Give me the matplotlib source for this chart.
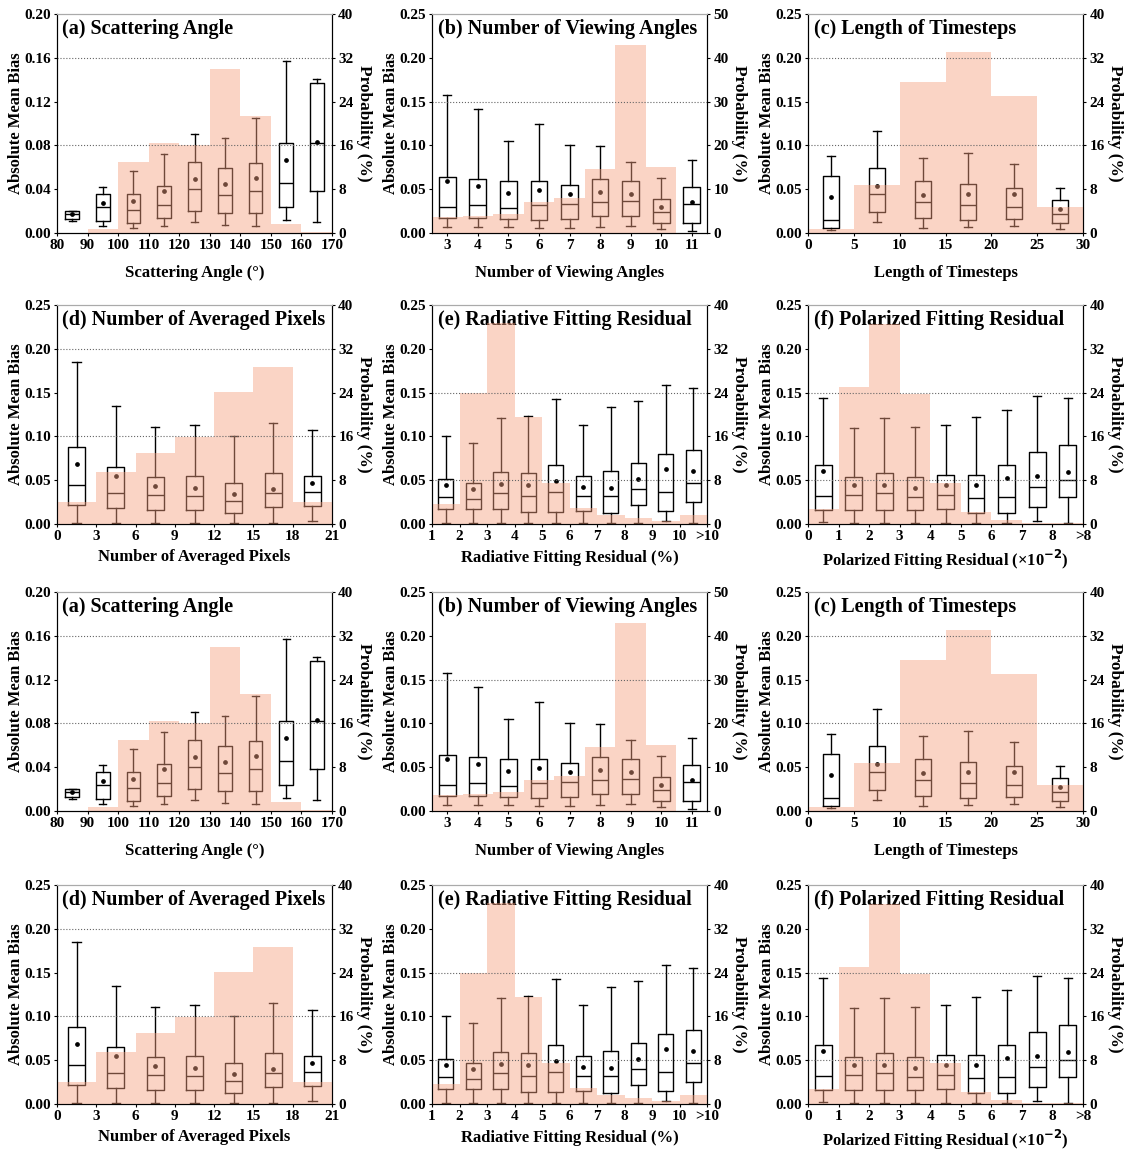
import numpy as np
import matplotlib.pyplot as plt
from matplotlib.ticker import FormatStrFormatter

plt.rcParams['font.family'] = ['Liberation Serif', 'DejaVu Serif']
plt.rcParams['font.weight'] = 'bold'
plt.rcParams['axes.labelweight'] = 'bold'
plt.rcParams['mathtext.default'] = 'bf'

# box rows: (whisker low, q1, median, q3, whisker high, mean)

# (a) Scattering Angle
a_edges = [80, 90, 100, 110, 120, 130, 140, 150, 160, 170]
a_prob = [0.0, 0.7, 12.9, 16.4, 16.0, 30.0, 21.4, 1.6, 0.1]
a_box = [(0.011, 0.013, 0.017, 0.020, 0.020, 0.017),
         (0.006, 0.011, 0.024, 0.036, 0.042, 0.027),
         (0.005, 0.009, 0.021, 0.036, 0.057, 0.029),
         (0.006, 0.014, 0.026, 0.043, 0.072, 0.038),
         (0.010, 0.020, 0.040, 0.065, 0.090, 0.049),
         (0.007, 0.018, 0.035, 0.059, 0.087, 0.045),
         (0.006, 0.018, 0.038, 0.064, 0.105, 0.050),
         (0.012, 0.024, 0.046, 0.082, 0.157, 0.067),
         (0.010, 0.038, 0.082, 0.137, 0.141, 0.083)]
a_xticks = [80, 90, 100, 110, 120, 130, 140, 150, 160, 170]

# (b) Number of Viewing Angles
b_edges = [2.5, 3.5, 4.5, 5.5, 6.5, 7.5, 8.5, 9.5, 10.5, 11.5]
b_prob = [3.6, 3.8, 4.4, 7.0, 8.0, 14.6, 43.0, 15.0, 0.0]
b_box = [(0.007, 0.017, 0.030, 0.064, 0.158, 0.059),
         (0.007, 0.017, 0.032, 0.062, 0.142, 0.054),
         (0.007, 0.016, 0.029, 0.059, 0.105, 0.046),
         (0.006, 0.015, 0.032, 0.059, 0.125, 0.049),
         (0.006, 0.016, 0.033, 0.055, 0.101, 0.044),
         (0.007, 0.019, 0.035, 0.062, 0.099, 0.047),
         (0.008, 0.019, 0.036, 0.059, 0.081, 0.045),
         (0.005, 0.011, 0.024, 0.039, 0.063, 0.030),
         (0.002, 0.011, 0.033, 0.052, 0.083, 0.035)]
b_xticks = [3, 4, 5, 6, 7, 8, 9, 10, 11]

# (c) Length of Timesteps
c_edges = [0, 5, 10, 15, 20, 25, 30]
c_prob = [0.8, 8.8, 27.5, 33.1, 25.0, 4.8]
c_box = [(0.003, 0.006, 0.015, 0.065, 0.088, 0.041),
         (0.012, 0.024, 0.044, 0.074, 0.117, 0.054),
         (0.006, 0.017, 0.035, 0.059, 0.086, 0.043),
         (0.007, 0.015, 0.032, 0.056, 0.091, 0.045),
         (0.008, 0.016, 0.030, 0.051, 0.079, 0.044),
         (0.004, 0.011, 0.022, 0.038, 0.051, 0.027)]
c_xticks = [0, 5, 10, 15, 20, 25, 30]

# (d) Number of Averaged Pixels
d_edges = [0, 3, 6, 9, 12, 15, 18, 21]
d_prob = [4.0, 9.5, 12.9, 15.8, 24.2, 28.6, 4.0]
d_box = [(0.001, 0.022, 0.045, 0.088, 0.185, 0.069),
         (0.001, 0.018, 0.035, 0.065, 0.135, 0.055),
         (0.001, 0.016, 0.033, 0.054, 0.111, 0.043),
         (0.001, 0.016, 0.032, 0.055, 0.113, 0.041),
         (0.001, 0.012, 0.026, 0.047, 0.100, 0.034),
         (0.001, 0.019, 0.035, 0.058, 0.115, 0.040),
         (0.003, 0.020, 0.036, 0.055, 0.107, 0.047)]
d_xticks = [0, 3, 6, 9, 12, 15, 18, 21]

# (e) Radiative Fitting Residual
e_edges = [1, 2, 3, 4, 5, 6, 7, 8, 9, 10, 11]
e_prob = [3.6, 24.0, 36.7, 19.5, 7.4, 2.9, 1.7, 1.1, 0.5, 1.6]
e_box = [(0.001, 0.017, 0.031, 0.051, 0.100, 0.044),
         (0.001, 0.017, 0.029, 0.047, 0.093, 0.040),
         (0.001, 0.017, 0.035, 0.059, 0.121, 0.046),
         (0.001, 0.014, 0.032, 0.058, 0.123, 0.044),
         (0.001, 0.014, 0.036, 0.067, 0.143, 0.049),
         (0.001, 0.015, 0.032, 0.055, 0.113, 0.042),
         (0.001, 0.012, 0.032, 0.061, 0.134, 0.041),
         (0.001, 0.022, 0.040, 0.070, 0.140, 0.051),
         (0.003, 0.015, 0.036, 0.080, 0.159, 0.063),
         (0.001, 0.025, 0.047, 0.085, 0.155, 0.060)]
e_xticks = [1, 2, 3, 4, 5, 6, 7, 8, 9, 10, 11]
e_xticklabels = ['1', '2', '3', '4', '5', '6', '7', '8', '9', '10', '>10']

# (f) Polarized Fitting Residual
f_edges = [0, 1, 2, 3, 4, 5, 6, 7, 8, 9]
f_prob = [2.7, 25.0, 36.5, 23.8, 7.5, 2.2, 0.7, 0.2, 0.2]
f_box = [(0.002, 0.016, 0.032, 0.067, 0.144, 0.060),
         (0.001, 0.016, 0.033, 0.054, 0.110, 0.045),
         (0.001, 0.016, 0.035, 0.058, 0.121, 0.044),
         (0.001, 0.016, 0.031, 0.054, 0.111, 0.041),
         (0.001, 0.017, 0.033, 0.056, 0.113, 0.045),
         (0.001, 0.013, 0.030, 0.056, 0.122, 0.044),
         (0.001, 0.012, 0.031, 0.067, 0.130, 0.053),
         (0.003, 0.019, 0.042, 0.082, 0.146, 0.055),
         (0.001, 0.031, 0.050, 0.090, 0.144, 0.059)]
f_xticks = [0, 1, 2, 3, 4, 5, 6, 7, 8, 9]
f_xticklabels = ['0', '1', '2', '3', '4', '5', '6', '7', '8', '>8']

HIST_COLOR = '#f5a080'
W, H = 1126, 1151


def draw_panel(rect, title, xlabel, edges, prob, boxes, xticks, xticklabels,
               ymax, ystep, pmax, pstep, grid_vals, width, xpad):
    ax = fig.add_axes(rect)
    edges = np.array(edges, dtype=float)
    pos = (edges[:-1] + edges[1:]) / 2
    stats = [dict(whislo=b[0], q1=b[1], med=b[2], q3=b[3], whishi=b[4],
                  mean=b[5], fliers=[]) for b in boxes]
    lp = dict(color='black', linewidth=1.0)
    ax.bxp(stats, positions=pos, widths=width, showmeans=True, patch_artist=False,
           boxprops=lp, whiskerprops=lp, capprops=lp, medianprops=lp,
           meanprops=dict(marker='o', markersize=2.4, markerfacecolor='black',
                          markeredgecolor='black'))
    ax.set_xlim(edges[0], edges[-1])
    ax.set_ylim(0, ymax)
    ax.set_yticks(np.arange(0, ymax + 1e-9, ystep))
    ax.yaxis.set_major_formatter(FormatStrFormatter('%.2f'))
    ax.set_xticks(xticks)
    ax.set_xticklabels(xticklabels if xticklabels else [str(t) for t in xticks])
    ax.set_xlabel(xlabel, fontsize=12, fontweight='bold', labelpad=xpad)
    ax.set_ylabel('Absolute Mean Bias', fontsize=12, fontweight='bold', labelpad=0)
    ax.tick_params(direction='out', length=2.5, width=0.8, labelsize=11, pad=2)

    ax2 = ax.twinx()
    ax2.bar(edges[:-1], prob, width=np.diff(edges), align='edge',
            color=HIST_COLOR, alpha=0.45, linewidth=0)
    for g in grid_vals:
        ax2.axhline(g, color='#666666', ls=':', lw=0.8)
    ax2.set_ylim(0, pmax)
    ax2.set_yticks(np.arange(0, pmax + 1e-9, pstep))
    ax2.set_ylabel('Probability (%)', fontsize=12.5, fontweight='bold',
                   rotation=270, labelpad=13)
    ax2.tick_params(direction='out', length=2.5, width=0.8, labelsize=11, pad=2)
    for a in (ax, ax2):
        a.spines['top'].set_color('#aaaaaa')
        a.spines['top'].set_linewidth(0.8)
    ax.text(0.02, 0.975, title, transform=ax.transAxes, ha='left', va='top',
            fontsize=14.5, fontweight='bold', zorder=10)


fig = plt.figure(figsize=(W / 100, H / 100), dpi=100)

col_left = [57, 432, 808]
row_top = [14, 305, 592, 885]
aw, ah = 275, 219


def rect(r, c):
    return [col_left[c] / W, 1 - (row_top[r] + ah) / H, aw / W, ah / H]


for block in (0, 2):
    draw_panel(rect(block, 0), '(a) Scattering Angle', 'Scattering Angle (°)',
               a_edges, a_prob, a_box, a_xticks, None, 0.20, 0.04, 40, 8, [16, 32], 4.5, 9)
    draw_panel(rect(block, 1), '(b) Number of Viewing Angles', 'Number of Viewing Angles',
               b_edges, b_prob, b_box, b_xticks, None, 0.25, 0.05, 50, 10, [30], 0.55, 9)
    draw_panel(rect(block, 2), '(c) Length of Timesteps', 'Length of Timesteps',
               c_edges, c_prob, c_box, c_xticks, None, 0.25, 0.05, 40, 8, [16, 32], 1.75, 9)
    draw_panel(rect(block + 1, 0), '(d) Number of Averaged Pixels', 'Number of Averaged Pixels',
               d_edges, d_prob, d_box, d_xticks, None, 0.25, 0.05, 40, 8, [16, 32], 1.3, 4)
    draw_panel(rect(block + 1, 1), '(e) Radiative Fitting Residual', 'Radiative Fitting Residual (%)',
               e_edges, e_prob, e_box, e_xticks, e_xticklabels, 0.25, 0.05, 40, 8, [8, 24], 0.55, 5)
    draw_panel(rect(block + 1, 2), '(f) Polarized Fitting Residual',
               'Polarized Fitting Residual (×10$^{-2}$)',
               f_edges, f_prob, f_box, f_xticks, f_xticklabels, 0.25, 0.05, 40, 8, [8, 24], 0.55, 3)

fig.savefig('out.png', dpi=100)
